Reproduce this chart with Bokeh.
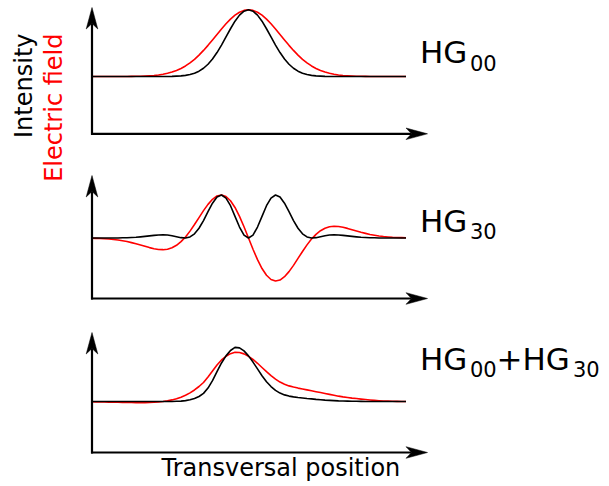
import math
from bokeh.plotting import figure
from bokeh.models import Range1d
from bokeh.embed import file_html
from bokeh.resources import INLINE
from bokeh.core.properties import value

# ---------------- data ----------------
# transversal position, in units of the beam width
position = [-3.5, -3.4, -3.3, -3.2, -3.1, -3.0, -2.9, -2.8, -2.7, -2.6, -2.5, -2.4,
            -2.3, -2.2, -2.1, -2.0, -1.9, -1.8, -1.7, -1.6, -1.5, -1.4, -1.3, -1.2,
            -1.1, -1.0, -0.9, -0.8, -0.7, -0.6, -0.5, -0.4, -0.3, -0.2, -0.1, 0.0,
            0.1, 0.2, 0.3, 0.4, 0.5, 0.6, 0.7, 0.8, 0.9, 1.0, 1.1, 1.2,
            1.3, 1.4, 1.5, 1.6, 1.7, 1.8, 1.9, 2.0, 2.1, 2.2, 2.3, 2.4,
            2.5, 2.6, 2.7, 2.8, 2.9, 3.0, 3.1, 3.2, 3.3, 3.4, 3.5]

# HG00 (arbitrary units, peak = 100)
hg00_field = [0, 0, 0, 0, 0, 0, 0, 0.1, 0.1, 0.2, 0.3, 0.4, 0.7, 1.1, 1.6, 2.3, 3.4, 4.8,
              6.6, 9.0, 12.1, 15.8, 20.4, 25.8, 32.1, 39.1, 46.7, 54.8, 63.1, 71.3, 79.1,
              86.0, 91.9, 96.3, 99.1, 100, 99.1, 96.3, 91.9, 86.0, 79.1, 71.3, 63.1, 54.8,
              46.7, 39.1, 32.1, 25.8, 20.4, 15.8, 12.1, 9.0, 6.6, 4.8, 3.4, 2.3, 1.6, 1.1,
              0.7, 0.4, 0.3, 0.2, 0.1, 0.1, 0, 0, 0, 0, 0, 0, 0]
hg00_intensity = [0, 0, 0, 0, 0, 0, 0, 0, 0, 0, 0, 0, 0, 0, 0, 0, 0, 0.1, 0.2, 0.5, 0.9,
                  1.7, 2.9, 4.9, 8.0, 12.4, 18.4, 26.2, 35.9, 47.1, 59.3, 71.6, 82.9, 92.0,
                  97.9, 100, 97.9, 92.0, 82.9, 71.6, 59.3, 47.1, 35.9, 26.2, 18.4, 12.4, 8.0,
                  4.9, 2.9, 1.7, 0.9, 0.5, 0.2, 0.1, 0, 0, 0, 0, 0, 0, 0, 0, 0, 0, 0, 0, 0,
                  0, 0, 0, 0]

# HG30
hg30_field = [-0.3, -0.5, -0.8, -1.1, -1.6, -2.2, -3.0, -4.1, -5.3, -6.9, -8.6, -10.5,
              -12.5, -14.4, -16.0, -17.2, -17.5, -16.8, -14.6, -10.9, -5.5, 1.6, 10.3, 20.2,
              30.6, 41.0, 50.4, 58.0, 63.0, 64.5, 62.2, 55.9, 45.8, 32.5, 16.9, 0,
              -16.9, -32.5, -45.8, -55.9, -62.2, -64.5, -63.0, -58.0, -50.4, -41.0, -30.6,
              -20.2, -10.3, -1.6, 5.5, 10.9, 14.6, 16.8, 17.5, 17.2, 16.0, 14.4, 12.5, 10.5,
              8.6, 6.9, 5.3, 4.1, 3.0, 2.2, 1.6, 1.1, 0.8, 0.5, 0.3]
hg30_intensity = [0, 0, 0, 0, 0, 0.1, 0.1, 0.3, 0.4, 0.7, 1.1, 1.7, 2.4, 3.2, 4.0, 4.6, 4.8,
                  4.4, 3.3, 1.9, 0.5, 0.0, 1.6, 6.3, 14.6, 26.1, 39.5, 52.2, 61.4, 64.5, 59.9,
                  48.4, 32.5, 16.4, 4.4, 0, 4.4, 16.4, 32.5, 48.4, 59.9, 64.5, 61.4, 52.2,
                  39.5, 26.1, 14.6, 6.3, 1.6, 0.0, 0.5, 1.9, 3.3, 4.4, 4.8, 4.6, 4.0, 3.2, 2.4,
                  1.7, 1.1, 0.7, 0.4, 0.3, 0.1, 0.1, 0, 0, 0, 0, 0]

# HG00 + HG30
sum_field = [-0.3, -0.5, -0.6, -0.8, -0.9, -1.1, -1.2, -1.4, -1.5, -1.5, -1.7, -1.7, -1.7,
             -1.5, -1.2, -0.8, 0, 1.1, 2.4, 4.2, 6.5, 9.3, 12.9, 17.3, 22.5, 28.5, 36.8,
             45.8, 54.8, 62.3, 67.8, 71.7, 73.8, 73.5, 71.4, 67.8, 63.0, 57.3, 51.0, 44.7,
             38.7, 33.5, 29.1, 25.8, 23.4, 21.6, 20.1, 18.8, 17.4, 16.1, 14.7, 13.4, 12.0,
             10.7, 9.3, 8.0, 6.9, 6.0, 5.1, 4.4, 3.6, 2.9, 2.3, 1.7, 1.2, 0.8, 0.5, 0.3,
             0.2, 0.0, 0.0]
sum_intensity = [0, 0, 0, 0, 0, 0, 0, 0, 0, 0, 0, 0, 0, 0, 0, 0, 0, 0.0, 0.1, 0.3, 0.6,
                 1.3, 2.5, 4.4, 7.5, 12.2, 20.1, 31.2, 44.7, 57.8, 68.4, 76.5, 81.2, 80.4,
                 75.9, 68.4, 59.1, 48.9, 38.7, 29.7, 22.4, 16.7, 12.6, 9.9, 8.1, 6.9, 6.0,
                 5.3, 4.5, 3.9, 3.2, 2.7, 2.1, 1.7, 1.3, 0.9, 0.7, 0.5, 0.4, 0.3, 0.2, 0.1,
                 0.1, 0, 0, 0, 0, 0, 0, 0, 0]

mode_names = ["HG", "HG", "HG"]
mode_subscripts = ["00", "30", "00"]
second_mode_name = "+HG"
second_mode_subscript = "30"
x_label = "Transversal position"
y_label_intensity = "Intensity"
y_label_field = "Electric field"

# ---------------- layout ----------------
W, H = 609, 486
RED = "#ff0000"
FONT = value("DejaVu Sans")
SHIFT = 0.37  # em, compensates where the alphabetic baseline lands

p = figure(width=W, height=H, x_range=Range1d(0, W), y_range=Range1d(H, 0),
           output_backend="svg", toolbar_location=None, min_border=0,
           x_axis_location=None, y_axis_location=None)
p.grid.visible = False
p.outline_line_color = None
p.background_fill_color = "white"
p.border_fill_color = "white"

AXIS_X = 91.5
TIP_X = 427.0
X_CENTER = 248.0
X_SCALE = 45.0
Y_SCALE = 0.667
HEAD_LEN, HEAD_HALF, HEAD_NOTCH = 21.5, 5.8, 16.0

panels = [
    dict(axis_y=133.3, tip_y=7.0, base=76.0, field=hg00_field, inten=hg00_intensity,
         label_base=63.3),
    dict(axis_y=298.0, tip_y=175.0, base=237.5, field=hg30_field, inten=hg30_intensity,
         label_base=231.7),
    dict(axis_y=452.0, tip_y=332.0, base=401.0, field=sum_field, inten=sum_intensity,
         label_base=370.0),
]

xs = [X_CENTER + X_SCALE * u for u in position]
head_xs, head_ys = [], []
for pan in panels:
    b = pan["base"]
    p.line(xs, [b - Y_SCALE * v for v in pan["field"]], line_color=RED, line_width=1.6,
           line_join="round")
    p.line(xs, [b - Y_SCALE * v for v in pan["inten"]], line_color="black", line_width=1.6,
           line_join="round")
    ay, ty = pan["axis_y"], pan["tip_y"]
    p.line([AXIS_X, AXIS_X], [ay + 1, ty + HEAD_NOTCH], line_color="black", line_width=2.2)
    p.line([AXIS_X - 1, TIP_X - HEAD_NOTCH], [ay, ay], line_color="black", line_width=2.2)
    head_xs.append([AXIS_X, AXIS_X - HEAD_HALF, AXIS_X, AXIS_X + HEAD_HALF])
    head_ys.append([ty, ty + HEAD_LEN, ty + HEAD_NOTCH, ty + HEAD_LEN])
    head_xs.append([TIP_X, TIP_X - HEAD_LEN, TIP_X - HEAD_NOTCH, TIP_X - HEAD_LEN])
    head_ys.append([ay, ay - HEAD_HALF, ay, ay + HEAD_HALF])
p.patches(head_xs, head_ys, fill_color="black", line_color="black", line_width=0.5)


def label(x, y, s, size, color="black", align="left", angle=0.0):
    if angle:
        x = x - SHIFT * size
    else:
        y = y - SHIFT * size
    p.text(x=[x], y=[y], text=[s], text_font=FONT, text_font_size=f"{size}px",
           text_baseline="alphabetic", text_align=align, angle=angle, text_color=color)


MAIN, SUB = 31, 21
for i, pan in enumerate(panels):
    label(419.5, pan["label_base"], mode_names[i], MAIN)
    label(469.5, pan["label_base"] + 6.5, mode_subscripts[i], SUB)
last = panels[2]["label_base"]
label(496.0, last, second_mode_name, MAIN)
label(572.5, last + 6.5, second_mode_subscript, SUB)

label(161.0, 476.0, x_label, 24)
label(32.5, 33.0, y_label_intensity, 24, align="right", angle=math.pi / 2)
label(62.5, 33.0, y_label_field, 24, color=RED, align="right", angle=math.pi / 2)

open("out.html", "w").write(file_html(p, INLINE))
